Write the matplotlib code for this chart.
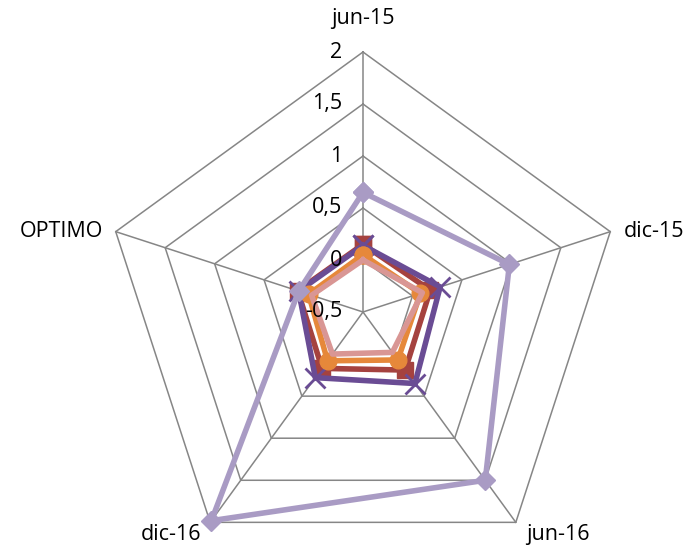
import numpy as np
import matplotlib
matplotlib.use('Agg')
import matplotlib.pyplot as plt

# datos del grafico radial
categorias = ['jun-15', 'dic-15', 'jun-16', 'dic-16', 'OPTIMO']
serie_roja = [0.15, 0.18, 0.19, 0.17, 0.16]
serie_morada = [0.14, 0.28, 0.35, 0.28, 0.15]
serie_naranja = [0.05, 0.08, 0.07, 0.08, 0.05]
serie_rosa = [0.0, 0.1, -0.02, 0.0, 0.02]
serie_lila = [0.65, 0.98, 1.5, 1.98, 0.15]
ticks = [-0.5, 0, 0.5, 1, 1.5, 2]
tick_labels = ['-0,5', '0', '0,5', '1', '1,5', '2']

plt.rcParams['font.family'] = ['Open Sans', 'DejaVu Sans']

fig = plt.figure(figsize=(6.93, 5.5), dpi=100)
ax = fig.add_axes([103 / 693, -22 / 550, 520 / 693, 520 / 550], projection='polar')
ax.set_theta_zero_location('N')
ax.set_theta_direction(-1)
ax.set_ylim(-0.5, 2)
ax.grid(False)
ax.spines['polar'].set_visible(False)
ax.set_xticks([])
ax.set_yticks([])
ax.patch.set_alpha(0)

n = len(categorias)
ang = np.linspace(0, 2 * np.pi, n, endpoint=False)
ang_c = np.append(ang, ang[0])

# rejilla pentagonal
gris = '#868686'
for t in ticks[1:]:
    ax.plot(ang_c, [t] * (n + 1), color=gris, lw=1.1, zorder=1, clip_on=False)
for a in ang:
    ax.plot([a, a], [-0.5, 2], color=gris, lw=1.1, zorder=1, clip_on=False)

def cerrar(v):
    return list(v) + [v[0]]

ax.plot(ang_c, cerrar(serie_roja), color='#A5423F', lw=4, marker='s', ms=12,
        zorder=3, clip_on=False)
ax.plot(ang_c, cerrar(serie_morada), color='#6A4C94', lw=4, marker='x', ms=14,
        mew=2, zorder=4, clip_on=False)
ax.plot(ang_c, cerrar(serie_naranja), color='#E6883A', lw=4, marker='o', ms=12,
        zorder=5, clip_on=False)
ax.plot(ang_c, cerrar(serie_rosa), color='#D99694', lw=4, zorder=6, clip_on=False)
ax.plot(ang_c, cerrar(serie_lila), color='#A99BC4', lw=4, marker='D', ms=10,
        zorder=7, clip_on=False)

# etiquetas del eje radial
for t, lab in zip(ticks, tick_labels):
    ax.annotate(lab, xy=(0, t), xytext=(-15, 0), textcoords='offset points',
                ha='right', va='center', fontsize=15.5, zorder=8)

# etiquetas de categorias
offs = [(0, 24, 'center', 'center'), (10, 0, 'left', 'center'),
        (30, -9, 'center', 'center'), (-28, -9, 'center', 'center'),
        (-9, 0, 'right', 'center')]
for a, lab, (dx, dy, ha, va) in zip(ang, categorias, offs):
    ax.annotate(lab, xy=(a, 2), xytext=(dx, dy), textcoords='offset points',
                ha=ha, va=va, fontsize=15.5, annotation_clip=False)

fig.savefig('out.png', dpi=100)
